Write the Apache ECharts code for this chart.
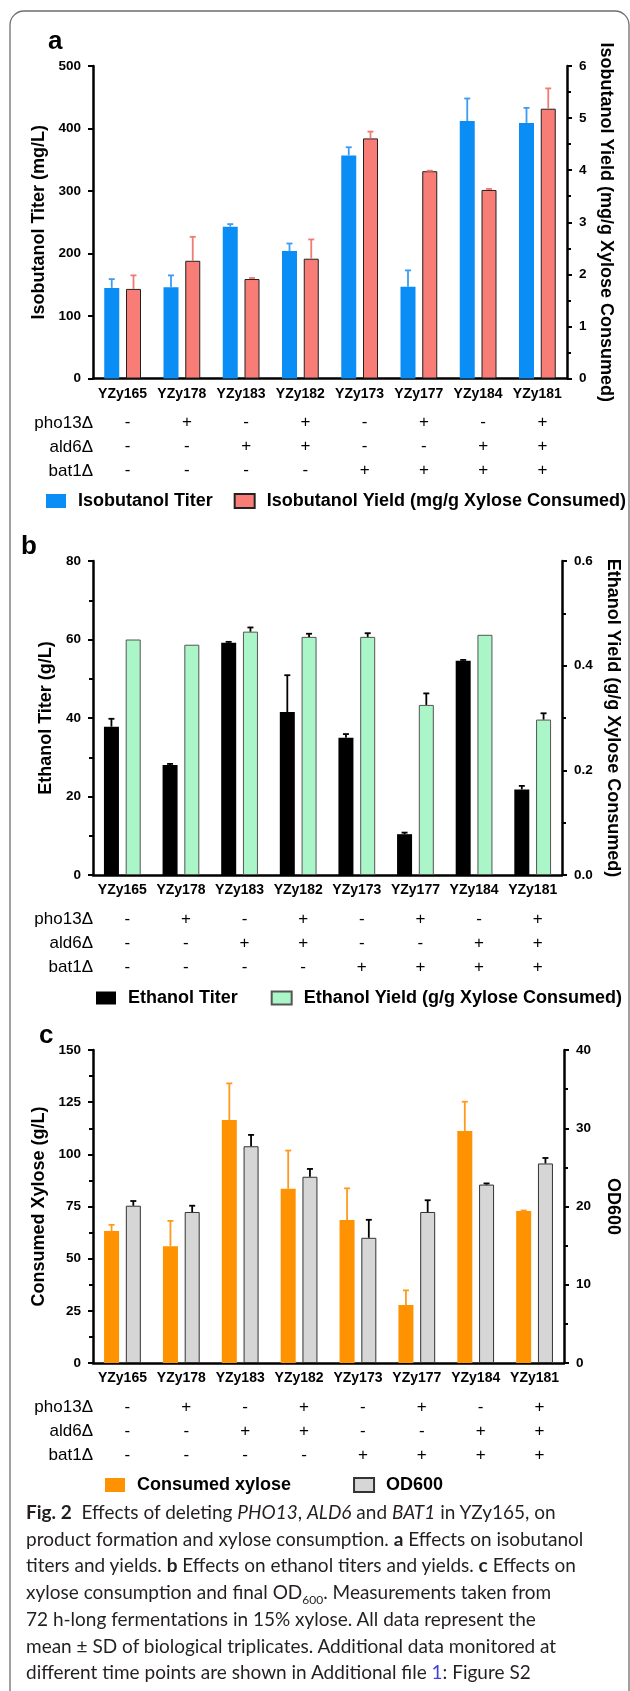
<!DOCTYPE html>
<html lang="en">
<head>
<meta charset="UTF-8">
<title>Fig. 2</title>
<script src="https://cdn.jsdelivr.net/npm/echarts@6/dist/echarts.min.js"></script>
<style>
  html, body { margin: 0; padding: 0; background: #fff; }
  #main { position: absolute; left: 0; top: 0; width: 630px; height: 1691px; }
  #cap {
    position: absolute; left: 26px; top: 1499px;
    font-family: Lato, "Open Sans", sans-serif; font-size: 19px; line-height: 26.7px;
    color: #231f20; white-space: nowrap;
  }
  #cap b { font-weight: 700; }
  #cap sub { font-size: 12px; line-height: 0; }
  #cap .lnk { color: #3f3fe0; }
</style>
</head>
<body>
<div id="main"></div>
<div id="cap"><b>Fig. 2</b>&nbsp; Effects of deleting <i>PHO13</i>, <i>ALD6</i> and <i>BAT1</i> in YZy165, on<br>
product formation and xylose consumption. <b>a</b> Effects on isobutanol<br>
titers and yields. <b>b</b> Effects on ethanol titers and yields. <b>c</b> Effects on<br>
xylose consumption and final OD<sub>600</sub>. Measurements taken from<br>
72 h-long fermentations in 15% xylose. All data represent the<br>
mean ± SD of biological triplicates. Additional data monitored at<br>
different time points are shown in Additional file <span class="lnk">1</span>: Figure S2</div>
<script type="text/javascript">
// strains and genotype table
var strains = ['YZy165', 'YZy178', 'YZy183', 'YZy182', 'YZy173', 'YZy177', 'YZy184', 'YZy181'];
var pho13 = ['-', '+', '-', '+', '-', '+', '-', '+'];
var ald6  = ['-', '-', '+', '+', '-', '-', '+', '+'];
var bat1  = ['-', '-', '-', '-', '+', '+', '+', '+'];

// panel a
var isoTiter   = [145, 146, 243, 204, 357, 147, 412, 409];
var isoTiterSd = [14, 19, 4, 12, 13, 26, 36, 24];
var isoYield   = [1.72, 2.26, 1.91, 2.30, 4.61, 3.98, 3.62, 5.18];
var isoYieldSd = [0.26, 0.46, 0.02, 0.37, 0.13, 0.01, 0.02, 0.39];

// panel b
var etTiter   = [37.8, 28.0, 59.2, 41.5, 35.0, 10.4, 54.6, 21.8];
var etTiterSd = [2.0, 0.3, 0.2, 9.4, 0.9, 0.4, 0.2, 0.9];
var etYield   = [0.450, 0.440, 0.465, 0.455, 0.455, 0.325, 0.459, 0.297];
var etYieldSd = [0, 0, 0.008, 0.006, 0.007, 0.022, 0, 0.012];

// panel c
var xylose   = [63.2, 56.0, 116.5, 83.5, 68.5, 27.8, 111.2, 72.8];
var xyloseSd = [3.0, 12.1, 17.5, 18.3, 15.2, 7.0, 14.0, 0.3];
var od600    = [20.1, 19.3, 27.7, 23.8, 16.0, 19.3, 22.8, 25.5];
var od600Sd  = [0.6, 0.8, 1.45, 1.0, 2.3, 1.5, 0.15, 0.7];

var FONT = '"Liberation Sans", Arial, sans-serif';
var BAR_W = 15, BAR_GAP = 0.45;
var OFF = (BAR_W + BAR_W * BAR_GAP) / 2;

// grid tops / heights
var grids = [
  { top: 66, height: 312.5 },
  { top: 561, height: 314 },
  { top: 1050, height: 313 }
];

var myChart = echarts.init(document.getElementById('main'));

function xAxisFor(gi) {
  return {
    type: 'category', gridIndex: gi, data: strains,
    axisLine: { lineStyle: { color: '#000', width: 2.5 } },
    axisTick: { alignWithLabel: true, length: 5, lineStyle: { color: '#000', width: 2 } },
    axisLabel: {
      interval: 0, margin: 8, color: '#000',
      formatter: function (v, i) {
        return '{n|' + v + '}\n{s| }\n{m|' + pho13[i] + '}\n{m|' + ald6[i] + '}\n{m|' + bat1[i] + '}';
      },
      rich: {
        n: { fontFamily: FONT, fontWeight: 'bold', fontSize: 14, lineHeight: 15, color: '#000' },
        s: { fontSize: 8, lineHeight: 9 },
        m: { fontFamily: FONT, fontSize: 17, lineHeight: 24, color: '#000', padding: [0, 0, 0, 10] }
      }
    }
  };
}

function yAxisFor(gi, pos, max, step, title, gap, minor, fmt) {
  return {
    type: 'value', gridIndex: gi, position: pos, min: 0, max: max, interval: step,
    name: title, nameLocation: 'middle', nameGap: gap, nameRotate: pos === 'left' ? 90 : -90,
    nameTextStyle: { fontFamily: FONT, fontWeight: 'bold', fontSize: 18, color: '#000' },
    axisLine: { show: true, lineStyle: { color: '#000', width: 2.5 } },
    axisTick: { show: true, length: 5, lineStyle: { color: '#000', width: 2 } },
    minorTick: { show: minor, splitNumber: 2, length: 4, lineStyle: { color: '#000', width: 2 } },
    splitLine: { show: false },
    axisLabel: {
      margin: 12, color: '#000', fontFamily: FONT, fontWeight: 'bold', fontSize: 13.5,
      formatter: fmt || '{value}'
    }
  };
}

function bars(name, xi, yi, vals, color, border, bw) {
  return {
    type: 'bar', name: name, xAxisIndex: xi, yAxisIndex: yi, data: vals,
    barWidth: BAR_W, barGap: (BAR_GAP * 100) + '%',
    itemStyle: { color: color, borderColor: border || color, borderWidth: bw || 0 }
  };
}

function errBars(xi, yi, vals, sds, side, color) {
  return {
    type: 'custom', xAxisIndex: xi, yAxisIndex: yi, z: 5, silent: true,
    data: vals.map(function (v, i) { return [i, v, sds[i]]; }),
    encode: { x: 0, y: 1 },
    renderItem: function (params, api) {
      var sd = api.value(2);
      if (!(sd > 0)) return null;
      var base = api.coord([api.value(0), api.value(1)]);
      var top = api.coord([api.value(0), api.value(1) + sd]);
      var x = base[0] + side * OFF;
      var st = { stroke: color, lineWidth: 1.8 };
      return {
        type: 'group', children: [
          { type: 'line', shape: { x1: x, y1: base[1], x2: x, y2: top[1] }, style: st },
          { type: 'line', shape: { x1: x - 3, y1: top[1], x2: x + 3, y2: top[1] }, style: st }
        ]
      };
    }
  };
}

function legendFor(names, top, left, gap, ih) {
  return {
    data: names, top: top, left: left, width: 600, itemGap: gap, selectedMode: false,
    icon: 'rect', itemWidth: 20, itemHeight: ih,
    textStyle: { fontFamily: FONT, fontWeight: 'bold', fontSize: 18, color: '#000', padding: [0, 0, 0, 7] }
  };
}

// frame, genotype row names and panel letters
var graphics = [
  { type: 'rect', shape: { x: 10, y: 11, width: 619, height: 1720, r: 14 },
    style: { fill: 'none', stroke: '#6e6e6e', lineWidth: 1.3 }, silent: true }
];
var rowNames = ['pho13\u0394', 'ald6\u0394', 'bat1\u0394'];
grids.forEach(function (g) {
  var bottom = g.top + g.height;
  rowNames.forEach(function (r, k) {
    graphics.push({
      type: 'text', x: 93, y: bottom + 44.5 + 24 * k,
      style: { text: r, align: 'right', verticalAlign: 'middle', font: '17px ' + FONT, fill: '#000' }
    });
  });
});
[['a', 48, 42], ['b', 21, 547], ['c', 39, 1036]].forEach(function (p) {
  graphics.push({
    type: 'text', x: p[1], y: p[2],
    style: { text: p[0], align: 'left', verticalAlign: 'middle', font: 'bold 26px ' + FONT, fill: '#000' }
  });
});

myChart.setOption({
  animation: false,
  textStyle: { fontFamily: FONT },
  grid: grids.map(function (g) { return { left: 93, right: 63, top: g.top, height: g.height }; }),
  xAxis: [xAxisFor(0), xAxisFor(1), xAxisFor(2)],
  yAxis: [
    yAxisFor(0, 'left', 500, 100, 'Isobutanol Titer (mg/L)', 42, false),
    yAxisFor(0, 'right', 6, 1, 'Isobutanol Yield (mg/g Xylose Consumed)', 29, true),
    yAxisFor(1, 'left', 80, 20, 'Ethanol Titer (g/L)', 36, true),
    yAxisFor(1, 'right', 0.6, 0.2, 'Ethanol Yield (g/g Xylose Consumed)', 42, true,
      function (v) { return v.toFixed(1); }),
    yAxisFor(2, 'left', 150, 25, 'Consumed Xylose (g/L)', 40, true),
    yAxisFor(2, 'right', 40, 10, 'OD600', 40, true)
  ],
  legend: [
    legendFor(['Isobutanol Titer', 'Isobutanol Yield (mg/g Xylose Consumed)'], 487, 41, 21, 14),
    legendFor(['Ethanol Titer', 'Ethanol Yield (g/g Xylose Consumed)'], 984, 91, 33, 13),
    legendFor(['Consumed xylose', 'OD600'], 1471, 100, 62, 14)
  ],
  graphic: graphics,
  series: [
    bars('Isobutanol Titer', 0, 0, isoTiter, '#0a8ef5'),
    bars('Isobutanol Yield (mg/g Xylose Consumed)', 0, 1, isoYield, '#f97d77', '#222', 1),
    errBars(0, 0, isoTiter, isoTiterSd, -1, '#3a9cf2'),
    errBars(0, 1, isoYield, isoYieldSd, 1, '#f27a74'),

    bars('Ethanol Titer', 1, 2, etTiter, '#000'),
    bars('Ethanol Yield (g/g Xylose Consumed)', 1, 3, etYield, '#aaf6c8', '#555', 1),
    errBars(1, 2, etTiter, etTiterSd, -1, '#000'),
    errBars(1, 3, etYield, etYieldSd, 1, '#000'),

    bars('Consumed xylose', 2, 4, xylose, '#ff9200'),
    bars('OD600', 2, 5, od600, '#d6d6d6', '#333', 1),
    errBars(2, 4, xylose, xyloseSd, -1, '#ff9a1f'),
    errBars(2, 5, od600, od600Sd, 1, '#000')
  ]
});
</script>
</body>
</html>
